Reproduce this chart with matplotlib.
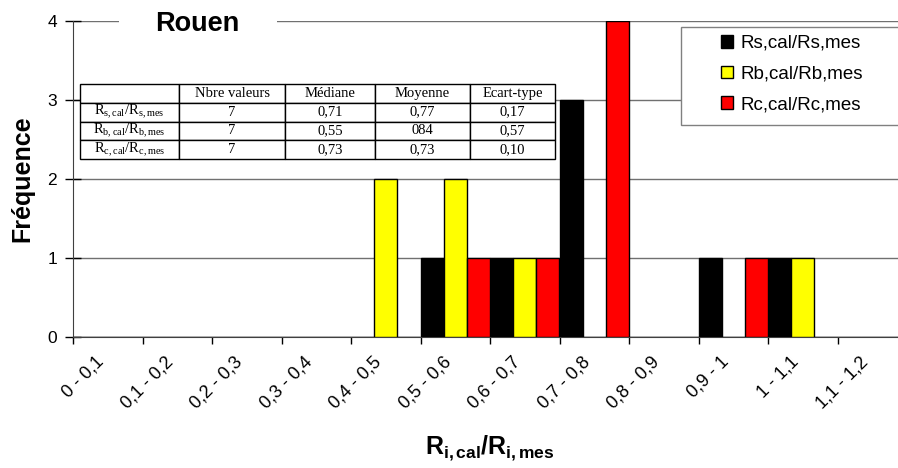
import numpy as np
import matplotlib.pyplot as plt
import matplotlib.transforms as mtrans
from matplotlib.patches import Rectangle, Patch

plt.rcParams['font.family'] = ['Liberation Sans', 'DejaVu Sans']
plt.rcParams['mathtext.fontset'] = 'custom'
plt.rcParams['mathtext.rm'] = 'Liberation Serif'
plt.rcParams['mathtext.it'] = 'Liberation Serif:italic'
plt.rcParams['mathtext.bf'] = 'Liberation Sans:bold'

# classes of the ratio R_cal / R_mes
classes = ['0 - 0,1', '0,1 - 0,2', '0,2 - 0,3', '0,3 - 0,4', '0,4 - 0,5', '0,5 - 0,6',
           '0,6 - 0,7', '0,7 - 0,8', '0,8 - 0,9', '0,9 - 1', '1 - 1,1', '1,1 - 1,2']
freq_rs = [0, 0, 0, 0, 0, 1, 1, 3, 0, 1, 1, 0]
freq_rb = [0, 0, 0, 0, 2, 2, 1, 0, 0, 0, 1, 0]
freq_rc = [0, 0, 0, 0, 0, 1, 1, 4, 0, 1, 0, 0]
series_labels = ['Rs,cal/Rs,mes', 'Rb,cal/Rb,mes', 'Rc,cal/Rc,mes']
series_colors = ['#000000', '#ffff00', '#ff0000']

# stats table
tab_header = ['', 'Nbre valeurs', 'Médiane', 'Moyenne', 'Ecart-type']
tab_rows = [r'$\mathrm{R_{s,cal}/R_{s,mes}}$', r'$\mathrm{R_{b,cal}/R_{b,mes}}$',
            r'$\mathrm{R_{c,cal}/R_{c,mes}}$']
tab_n = ['7', '7', '7']
tab_med = ['0,71', '0,55', '0,73']
tab_moy = ['0,77', '084', '0,73']
tab_std = ['0,17', '0,57', '0,10']

W, H = 898, 468
fig = plt.figure(figsize=(W / 100, H / 100), dpi=100, facecolor='w')
ax = fig.add_axes([73 / W, (H - 337) / H, 834 / W, 316 / H])

x = np.arange(len(classes))
bw = 1.0 / 3
for k, (vals, c) in enumerate(zip([freq_rs, freq_rb, freq_rc], series_colors)):
    ax.bar(x + (k - 1) * bw, vals, width=bw, color=c, edgecolor='k', lw=1, zorder=3)

ax.set_xlim(-0.5, len(classes) - 0.5)
ax.set_ylim(0, 4)
ax.set_yticks([0, 1, 2, 3, 4])
ax.tick_params(axis='y', direction='inout', length=11, width=1, labelsize=12.5, pad=6)
ax.set_xticks(x)
ax.set_xticks(np.arange(len(classes) + 1) - 0.5, minor=True)
ax.set_xticklabels(classes, rotation=45, ha='right', rotation_mode='anchor', va='center')
ax.tick_params(axis='x', which='major', length=0, labelsize=13, pad=16)
ax.tick_params(axis='x', which='minor', direction='out', length=5, width=1)
shift = mtrans.ScaledTranslation(-7 / 100, 0, fig.dpi_scale_trans)
for lab in ax.get_xticklabels():
    lab.set_transform(lab.get_transform() + shift)
ax.yaxis.grid(True, color='#707070', lw=1, zorder=0)
ax.set_axisbelow(True)
for s in ['top', 'right']:
    ax.spines[s].set_visible(False)
ax.spines['left'].set_color('#404040')
ax.spines['bottom'].set_color('#404040')

ax.set_ylabel('Fréquence', fontsize=18, fontweight='bold', labelpad=9)
ax.set_xlabel(r'$\mathbf{R_{i,cal}/R_{i,mes}}$', fontsize=18)
ax.xaxis.set_label_coords(490 / 834 - 73 / 834, (337 - 434) / 316)

# title in a white box over the top gridline
ax.add_patch(Rectangle((46 / 834, 0.97), 158 / 834, 0.06, transform=ax.transAxes,
                       fc='w', ec='none', zorder=4, clip_on=False))
ax.text(124 / 834, (337 - 24) / 316, 'Rouen', transform=ax.transAxes, fontsize=19.5,
        fontweight='bold', ha='center', va='center', zorder=5)

# table
cells = [tab_header] + [[r, a, b, c, d] for r, a, b, c, d in
                        zip(tab_rows, tab_n, tab_med, tab_moy, tab_std)]
cw = np.array([99, 106, 90, 95, 85], dtype=float)
tbl = ax.table(cellText=cells, colWidths=list(cw / cw.sum()), cellLoc='center',
               bbox=[7 / 834, (337 - 159) / 316, 475 / 834, 75 / 316], zorder=6)
tbl.auto_set_font_size(False)
for (r, c), cell in tbl.get_celld().items():
    cell.set_facecolor('w')
    cell.set_edgecolor('k')
    cell.set_linewidth(1)
    cell.get_text().set_fontfamily('Liberation Serif')
    cell.get_text().set_fontsize(10.5)

# legend with its own frame running off the right edge
ax.add_patch(Rectangle((681 / W, (H - 125) / H), 0.3, 98 / H, transform=fig.transFigure,
                       fc='w', ec='#808080', lw=1, zorder=7, clip_on=False))
handles = [Patch(fc=c, ec='k', lw=1) for c in series_colors]
leg = fig.legend(handles, series_labels, loc='upper left', bbox_to_anchor=(721 / W, 1 - 35 / H),
                 frameon=False, fontsize=13.5, handlelength=0.65, handleheight=0.65,
                 handletextpad=0.4, labelspacing=0.72, borderpad=0, borderaxespad=0)
leg.set_zorder(8)

fig.savefig('out.png', dpi=100, facecolor='w')
